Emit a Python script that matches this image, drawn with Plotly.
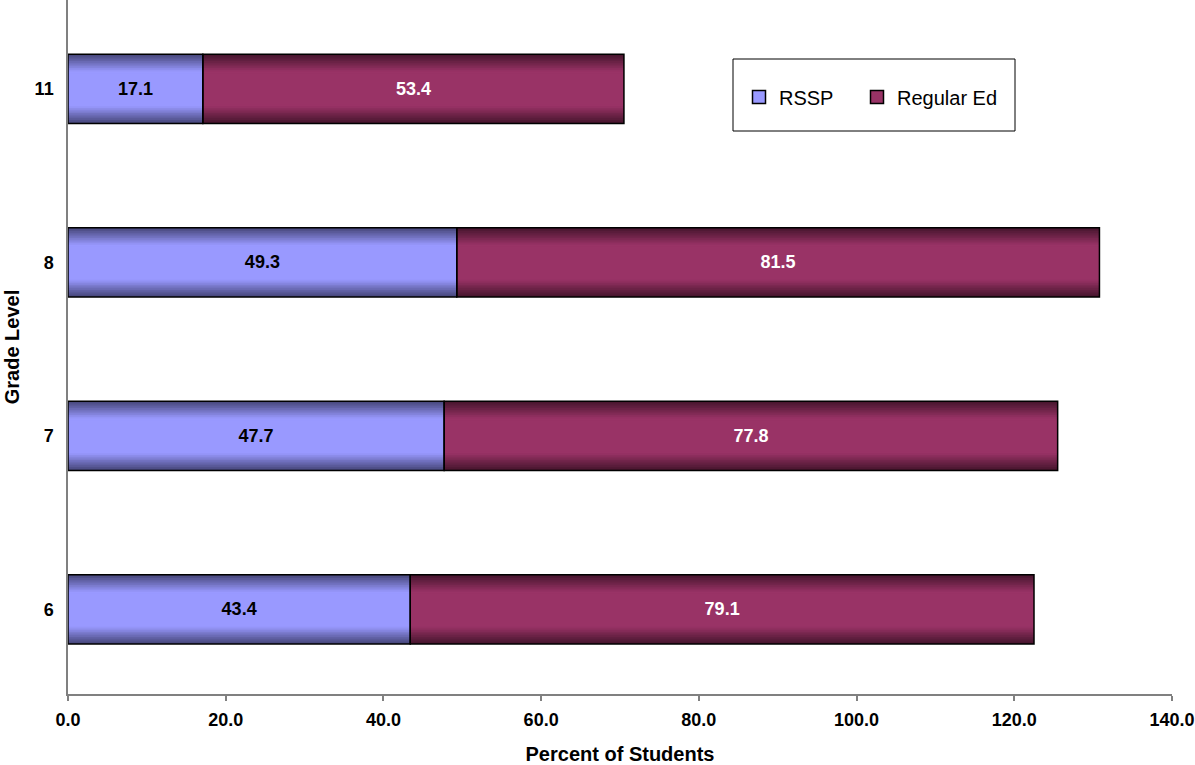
import plotly.graph_objects as go

grades = ["6", "7", "8", "11"]
rssp = [43.4, 47.7, 49.3, 17.1]
regular_ed = [79.1, 77.8, 81.5, 53.4]
x_ticks = [0, 20, 40, 60, 80, 100, 120, 140]
x_tick_labels = ["0.0", "20.0", "40.0", "60.0", "80.0", "100.0", "120.0", "140.0"]

FONT = "Arial, Liberation Sans, sans-serif"
BAR_W = 0.4
N_LAYERS = 12
PW, PH, L0 = 1104, 694, 68


def mix(c1, c2, t):
    return "rgb(%d,%d,%d)" % tuple(round(a + (b - a) * t) for a, b in zip(c1, c2))


series = [
    ("RSSP", rssp, [0] * len(rssp), (0x48, 0x48, 0x7C), (0x99, 0x99, 0xFF), "#000000", "legend", 739),
    ("Regular Ed", regular_ed, rssp, (0x48, 0x16, 0x2E), (0x99, 0x33, 0x66), "#FFFFFF", "legend2", 857),
]

fig = go.Figure()

# gradient layers (light in the middle, dark at top and bottom edges)
for name, vals, base, dark, light, tcol, lg, lx in series:
    for k in range(N_LAYERS):
        t = k / (N_LAYERS - 1)
        w = BAR_W * (1 - 0.05 * k)
        fig.add_trace(go.Bar(
            y=grades, x=vals, base=base, orientation="h",
            width=[w] * len(grades),
            marker=dict(color=mix(dark, light, min(1.0, t * 1.15)), line=dict(width=0)),
            showlegend=False, hoverinfo="skip",
        ))

# outlines + value labels
for name, vals, base, dark, light, tcol, lg, lx in series:
    fig.add_trace(go.Bar(
        y=grades, x=vals, base=base, orientation="h",
        width=[BAR_W] * len(grades),
        marker=dict(color="rgba(0,0,0,0)", line=dict(color="#000000", width=1.5)),
        text=["%.1f" % v for v in vals], textposition="inside",
        insidetextanchor="middle", constraintext="none",
        textfont=dict(family=FONT, size=18, color=tcol, weight="bold"),
        showlegend=False, name=name,
    ))

# legend entries
for name, vals, base, dark, light, tcol, lg, lx in series:
    fig.add_trace(go.Scatter(
        y=[None], x=[None], mode="markers", name=name, legend=lg,
        marker=dict(symbol="square", size=13, color=mix(light, light, 0),
                    line=dict(color="#000000", width=1.5)),
        showlegend=True,
    ))

legend_common = dict(
    orientation="h", xanchor="left",
    y=1 - 97 / PH, yanchor="middle",
    font=dict(family=FONT, size=20),
    bgcolor="rgba(0,0,0,0)", borderwidth=0,
)

fig.update_layout(
    width=1195, height=765,
    margin=dict(l=68, r=23, t=0, b=71),
    barmode="overlay",
    plot_bgcolor="white", paper_bgcolor="white",
    font=dict(family=FONT, color="#000000"),
    xaxis=dict(
        range=[0, 140], tickvals=x_ticks, ticktext=x_tick_labels,
        showgrid=False, zeroline=False,
        showline=True, linecolor="#808080", linewidth=1.5,
        ticks="outside", ticklen=5, tickcolor="#808080", tickwidth=1.5,
        ticklabelstandoff=4,
        tickfont=dict(family=FONT, size=18, weight="bold"),
        title=dict(text="Percent of Students", standoff=18,
                   font=dict(family=FONT, size=20, weight="bold")),
    ),
    yaxis=dict(
        categoryorder="array", categoryarray=grades,
        range=[-0.488, 3.512],
        showgrid=False, zeroline=False,
        showline=True, linecolor="#808080", linewidth=1.5,
        ticks="", ticklabelstandoff=9,
        tickfont=dict(family=FONT, size=18, weight="bold"),
        title=dict(text="Grade Level", standoff=10,
                   font=dict(family=FONT, size=20, weight="bold")),
    ),
    legend=dict(x=(739 - L0) / PW, **legend_common),
    legend2=dict(x=(857 - L0) / PW, **legend_common),
    shapes=[dict(
        type="rect", xref="paper", yref="paper",
        x0=(733 - L0) / PW, x1=(1015 - L0) / PW,
        y0=1 - 131 / PH, y1=1 - 59 / PH,
        line=dict(color="#000000", width=1), fillcolor="white", layer="below",
    )],
)

fig.write_html("out.html")
